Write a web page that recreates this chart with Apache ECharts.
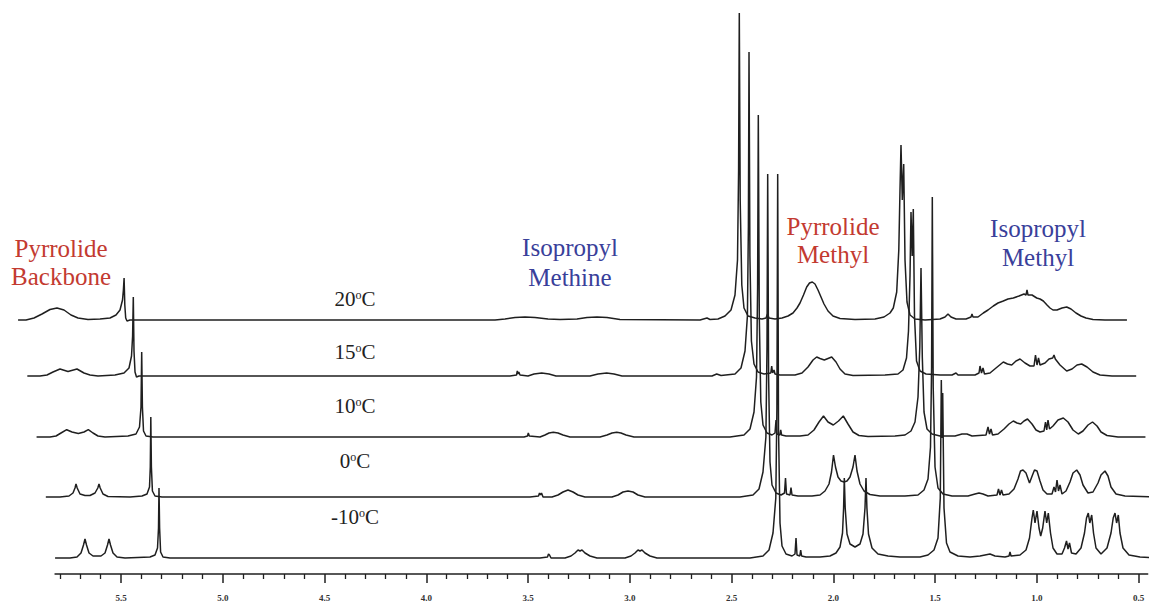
<!DOCTYPE html>
<html>
<head>
<meta charset="utf-8">
<title>Variable temperature 1H NMR</title>
<script src="https://cdn.jsdelivr.net/npm/echarts@6/dist/echarts.min.js"></script>
<style>
  html, body { margin: 0; padding: 0; background: #ffffff; overflow: hidden; }
  /* the stack runs off the right edge, so the drawing surface is a bit wider than the page */
  #chart { width: 1180px; height: 604px; }
</style>
</head>
<body>
<div id="chart"></div>
<script>
// Chemical shift window shared by every trace (ppm, axis runs high to low)
const ppmMin = 0.375;
const ppmMax = 5.824;

// Scale bar ticks
const majorTicks = [5.5, 5.0, 4.5, 4.0, 3.5, 3.0, 2.5, 2.0, 1.5, 1.0, 0.5];
const minorTicks = [5.8, 5.7, 5.6, 5.4, 5.3, 5.2, 5.1, 4.9, 4.8, 4.7, 4.6, 4.4, 4.3, 4.2, 4.1,
  3.9, 3.8, 3.7, 3.6, 3.4, 3.3, 3.2, 3.1, 2.9, 2.8, 2.7, 2.6, 2.4, 2.3, 2.2, 2.1,
  1.9, 1.8, 1.7, 1.6, 1.4, 1.3, 1.2, 1.1, 0.9, 0.8, 0.7, 0.6];

// Trace temperatures, bottom to top
const temperatures = ['-10', '0', '10', '15', '20'];

// Spectra: [chemical shift (ppm), intensity (a.u.)]
const spectrumM10 = [
  [5.824,0],[5.7506,0],[5.7162,1],[5.6966,5],[5.6843,13],[5.6769,19],[5.6695,13],[5.6572,5],[5.6376,2],
  [5.6179,2],[5.5983,2],[5.5786,5],[5.5663,13],[5.5590,19],[5.5516,13],[5.5393,5],[5.5196,1],[5.4803,0],
  [5.3575,1],[5.3329,3],[5.3206,10],[5.3157,30],[5.3133,70],[5.3103,30],[5.3054,6],[5.2936,1],[5.2592,0],
  [3.4410,0],[3.4042,1],[3.3993,4],[3.3943,3],[3.3870,0],[3.3182,0],[3.2887,2],[3.2690,5],[3.2543,8],
  [3.2445,7],[3.2346,8],[3.2199,5],[3.1953,2],[3.1609,0],[3.0233,0],[2.9939,2],[2.9742,5],[2.9595,8],
  [2.9496,7],[2.9398,8],[2.9251,5],[2.9005,2],[2.8661,0],[2.4091,0],[2.3452,2],[2.3157,8],[2.2961,25],
  [2.2823,60],[2.2769,150],[2.2730,384],[2.2690,130],[2.2617,35],[2.2518,12],[2.2322,4],[2.2027,2],
  [2.1880,4],[2.1830,20],[2.1781,3],[2.1644,2],[2.1600,8],[2.1555,2],[2.1339,1],[2.0651,1],[2.0160,2],
  [1.9865,5],[1.9668,11],[1.9545,25],[1.9491,50],[1.9457,80],[1.9413,50],[1.9324,24],[1.9177,14],
  [1.8931,11],[1.8686,14],[1.8538,24],[1.8440,50],[1.8391,80],[1.8346,50],[1.8268,24],[1.8096,10],
  [1.7801,4],[1.7310,2],[1.6720,1],[1.5737,1],[1.5344,3],[1.5049,8],[1.4853,20],[1.4740,60],[1.4690,178],
  [1.4656,120],[1.4622,165],[1.4558,50],[1.4435,15],[1.4263,6],[1.3870,2],[1.3280,1],[1.2789,2],
  [1.2543,3],[1.2297,4],[1.2052,2],[1.1560,1],[1.1364,2],[1.1314,6],[1.1265,2],[1.0823,3],[1.0528,8],
  [1.0356,20],[1.0233,40],[1.0170,48],[1.0086,35],[0.9988,47],[0.9889,30],[0.9806,22],[0.9708,30],
  [0.9595,47],[0.9511,35],[0.9432,45],[0.9324,25],[0.9201,10],[0.9005,4],[0.8759,4],[0.8636,10],
  [0.8538,17],[0.8464,9],[0.8391,15],[0.8292,5],[0.8071,4],[0.7826,10],[0.7654,25],[0.7555,40],
  [0.7467,45],[0.7393,35],[0.7300,43],[0.7211,25],[0.7088,10],[0.6843,4],[0.6548,10],[0.6351,25],
  [0.6243,40],[0.6155,45],[0.6076,35],[0.5993,43],[0.5909,25],[0.5762,10],[0.5467,3],[0.4926,1],[0.375,0]
];

const spectrum0 = [
  [5.824,0],[5.7543,0],[5.7101,1],[5.6904,4],[5.6806,9],[5.6757,13],[5.6698,9],[5.6560,3],[5.6314,1.5],
  [5.6069,1.5],[5.5823,4],[5.5686,9],[5.5627,13],[5.5568,9],[5.5430,3],[5.5184,0.5],[5.4103,0],
  [5.3514,1],[5.3268,3],[5.3145,10],[5.3106,30],[5.3081,80],[5.3052,30],[5.3002,6],[5.2875,1],[5.2531,0],
  [3.4447,0],[3.4029,1],[3.3980,4],[3.3931,2],[3.3882,4],[3.3808,0],[3.3366,0],[3.3071,2],[3.2826,5],
  [3.2580,7],[3.2334,5],[3.2088,2],[3.1744,0],[3.0418,0],[3.0123,2],[2.9877,5],[2.9631,6],[2.9386,5],
  [2.9140,2],[2.8796,0],[2.4128,0],[2.3489,2],[2.3194,8],[2.2998,25],[2.2855,60],[2.2801,150],
  [2.2767,323],[2.2722,120],[2.2654,35],[2.2555,12],[2.2359,4],[2.2113,2],[2.1941,4],[2.1892,19],
  [2.1843,3],[2.1671,2],[2.1622,9.5],[2.1572,2],[2.1278,1],[2.0590,1],[2.0197,2],[1.9951,6],[1.9754,13],
  [1.9631,25],[1.9533,42],[1.9435,30],[1.9312,20],[1.9165,16],[1.9017,15],[1.8870,16],[1.8722,20],
  [1.8575,30],[1.8477,42],[1.8378,26],[1.8231,13],[1.8034,6],[1.7740,2.5],[1.7248,1],[1.6020,1],
  [1.5381,2],[1.5086,7],[1.4889,18],[1.4767,50],[1.4713,130],[1.4678,300],[1.4634,110],[1.4545,30],
  [1.4398,9],[1.4152,3],[1.3710,1],[1.2924,1],[1.2580,3],[1.2383,4],[1.2187,3],[1.1941,1],[1.1499,2],
  [1.1425,8],[1.1351,2],[1.1278,7],[1.1204,2],[1.0909,3],[1.0663,8],[1.0467,18],[1.0344,26],[1.0221,27],
  [1.0074,24],[0.9902,14],[0.9754,22],[0.9656,27],[0.9533,26],[0.9386,16],[0.9238,7],[0.9042,3],
  [0.8796,3],[0.8698,10],[0.8624,5],[0.8550,17],[0.8477,6],[0.8403,12],[0.8305,3],[0.8108,6],
  [0.7912,15],[0.7764,24],[0.7582,27],[0.7420,22],[0.7273,12],[0.7027,4],[0.6781,5],[0.6536,14],
  [0.6388,22],[0.6192,26],[0.6044,21],[0.5897,10],[0.5651,3],[0.5209,1],[0.375,0]
];

const spectrum10 = [
  [5.824,0],[5.7580,0],[5.7285,1],[5.7039,4],[5.6759,7.3],[5.6499,5],[5.6189,3.5],[5.5909,5],[5.5698,7.3],
  [5.5467,4],[5.5221,1],[5.4877,0],[5.3747,1],[5.3354,3],[5.3182,10],[5.3108,30],[5.3074,85],[5.3039,30],
  [5.2985,6],[5.2862,1],[5.2518,0],[3.4287,0],[3.4115,1],[3.4076,4],[3.4027,1],[3.3501,0],[3.3256,2],
  [3.3059,4],[3.2848,4.7],[3.2617,4],[3.2371,2],[3.2027,0],[3.0553,0],[3.0209,2],[2.9963,4],[2.9732,4.7],
  [2.9521,4],[2.9275,2],[2.8882,0],[2.4165,0],[2.3477,2],[2.3182,8],[2.2985,25],[2.2862,60],[2.2808,150],
  [2.2774,322],[2.2725,120],[2.2651,35],[2.2543,12],[2.2346,4],[2.2101,2],[2.1953,4],[2.1904,17],
  [2.1855,3],[2.1717,2],[2.1673,7],[2.1629,2],[2.1413,1],[2.0725,1],[2.0332,2],[2.0037,7],[1.9791,15],
  [1.9570,21],[1.9349,15],[1.9089,12],[1.8833,16],[1.8597,21],[1.8366,13],[1.8120,5],[1.7826,1.5],
  [1.7383,0.5],[1.6057,1],[1.5565,2],[1.5270,6],[1.5074,15],[1.4926,40],[1.4838,90],[1.4779,169],
  [1.4715,80],[1.4631,25],[1.4484,8],[1.4238,3],[1.3845,1],[1.3108,1],[1.2764,3],[1.2518,3],[1.2273,1],
  [1.1585,2],[1.1486,10],[1.1413,3],[1.1339,8],[1.1265,2],[1.0995,3],[1.0700,8],[1.0455,13],[1.0243,16],
  [1.0061,14],[0.9880,13],[0.9717,16],[0.9545,18],[0.9324,13],[0.9128,7],[0.8931,5],[0.8735,6],
  [0.8661,15],[0.8602,7],[0.8538,17],[0.8464,8],[0.8292,11],[0.8047,17],[0.7786,19],[0.7555,15],
  [0.7310,7],[0.7049,3],[0.6818,6],[0.6572,12],[0.6351,15],[0.6130,11],[0.5934,5],[0.5639,1.5],
  [0.5098,0],[0.375,0]
];

const spectrum15 = [
  [5.824,0],[5.7617,0],[5.7273,1],[5.6978,4],[5.6634,7],[5.6241,4.5],[5.5799,7],[5.5455,3],[5.5160,1],
  [5.4767,0],[5.3931,1],[5.3489,3],[5.3243,8],[5.3120,20],[5.3066,40],[5.3032,79],[5.2998,25],[5.2948,4],
  [5.2875,-1],[5.2752,0],[3.4521,0],[3.4201,1],[3.4162,5],[3.4128,2],[3.4088,4],[3.4029,1],[3.3636,0],
  [3.3342,2],[3.2963,3],[3.2604,2],[3.2260,0],[3.0590,0],[3.0197,2],[2.9769,3],[2.9410,2],[2.9017,0],
  [2.4595,0],[2.4364,2],[2.4152,0.5],[2.3464,2],[2.3170,8],[2.2973,25],[2.2855,60],[2.2806,150],
  [2.2776,324],[2.2732,120],[2.2658,35],[2.2531,12],[2.2334,4],[2.2039,2],[2.1705,3],[2.1661,10],
  [2.1617,3],[2.1548,6],[2.1499,2],[2.1253,1],[2.0516,1],[2.0172,3],[1.9877,9],[1.9631,16],[1.9450,19],
  [1.9287,17.5],[1.9076,16],[1.8894,17.5],[1.8713,19],[1.8501,14],[1.8305,7],[1.8059,2],[1.7666,0.5],
  [1.6093,1],[1.5455,2],[1.5209,6],[1.5037,18],[1.4939,45],[1.4865,100],[1.4816,164],[1.4757,120],
  [1.4703,167],[1.4644,60],[1.4545,15],[1.4373,5],[1.4079,2],[1.3391,1],[1.2801,1],[1.2604,3],[1.2506,1],
  [1.1671,1],[1.1474,3],[1.1425,10],[1.1351,3],[1.1278,8],[1.1204,2],[1.0934,3],[1.0639,8],[1.0280,14],
  [1.0074,12],[0.9867,11],[0.9656,15],[0.9459,17],[0.9214,13],[0.8968,10],[0.8771,10],[0.8698,21],
  [0.8624,11],[0.8550,18],[0.8477,11],[0.8231,13],[0.8034,17],[0.7853,18],[0.7789,21],[0.7725,17],
  [0.7494,11],[0.7165,5],[0.6904,7],[0.6658,11],[0.6428,12],[0.6167,9],[0.5872,4],[0.5528,1],
  [0.4939,0],[0.375,0]
];

const spectrum20 = [
  [5.824,0],[5.7850,0],[5.7457,2],[5.7064,6],[5.6671,10.5],[5.6327,12],[5.5983,10],[5.5639,5],[5.5295,2],
  [5.4803,0.5],[5.4214,1],[5.3722,2],[5.3428,5],[5.3231,10],[5.3108,20],[5.3064,30],[5.3030,42],
  [5.2995,15],[5.2951,2],[5.2887,-1],[5.2740,0],[3.4803,0],[3.4312,1],[3.3821,2.5],[3.3329,3],
  [3.2838,2.5],[3.2199,1],[3.1609,0.5],[3.0774,1],[3.0283,2.5],[2.9791,3],[2.9300,2.5],[2.8661,0.5],
  [2.4730,0],[2.4386,2],[2.4238,0.5],[2.3845,1],[2.3501,4],[2.3206,10],[2.3010,25],[2.2887,60],
  [2.2833,150],[2.2799,307],[2.2755,120],[2.2676,35],[2.2568,12],[2.2371,4],[2.2027,2],[2.1683,1],
  [2.1486,2],[2.1413,6],[2.1339,2],[2.1044,1],[2.0700,2],[2.0405,4],[2.0160,7],[1.9963,12],[1.9816,17],
  [1.9644,25],[1.9487,33],[1.9349,37],[1.9211,38],[1.9079,36],[1.8931,30],[1.8784,23],[1.8636,16],
  [1.8440,9],[1.8194,4],[1.7850,1.5],[1.7113,0.5],[1.6130,1],[1.5688,3],[1.5393,7],[1.5231,12],
  [1.5064,28],[1.4961,70],[1.4902,130],[1.4853,175],[1.4789,120],[1.4720,156],[1.4656,60],[1.4558,18],
  [1.4410,5],[1.4165,1],[1.3673,0],[1.2936,1],[1.2690,3],[1.2543,6],[1.2396,3],[1.2150,1],[1.1658,1],
  [1.1413,3],[1.1364,6],[1.1314,3],[1.1069,3],[1.0808,7],[1.0577,10],[1.0317,14],[1.0086,17],[0.9826,19],
  [0.9595,21],[0.9334,22],[0.9054,24],[0.8808,26],[0.8710,25],[0.8661,30],[0.8612,25],[0.8415,25],
  [0.8184,22],[0.8022,21],[0.7860,19],[0.7678,15],[0.7531,12],[0.7383,10],[0.7187,10],[0.6941,12],
  [0.6710,13],[0.6499,11],[0.6253,7],[0.6007,4],[0.5762,2],[0.5418,0.5],[0.4828,0],[0.375,0]
];

const spectra = [spectrumM10, spectrum0, spectrum10, spectrum15, spectrum20];

// ---- layout of the stacked plot ----
const pxPerPpm = 203.5;        // horizontal scale
const plotLeft = 55.07;        // x of ppmMax for the bottom trace
const stepX = 9.25;            // each higher trace sits a little further left
const baselines = [558, 497, 437, 376, 320];   // baseline y of each trace
const plotTop = 4;
const traceWidth = (ppmMax - ppmMin) * pxPerPpm;
const scaleMin = 0.455;
const scaleWidth = (ppmMax - scaleMin) * pxPerPpm;
const scaleLineY = 574;

const serif = "'Liberation Serif', 'DejaVu Serif', serif";
const ink = '#1f1f1f';
const red = '#c33a30';
const blue = '#39409a';

const grids = [], xAxes = [], yAxes = [], series = [];
spectra.forEach((data, k) => {
  grids.push({
    left: plotLeft - stepX * k,
    width: traceWidth,
    top: plotTop,
    height: baselines[k] - plotTop
  });
  xAxes.push({
    gridIndex: k, type: 'value', inverse: true, min: ppmMin, max: ppmMax, show: false
  });
  yAxes.push({
    gridIndex: k, type: 'value', min: 0, max: baselines[k] - plotTop, show: false
  });
  series.push({
    name: temperatures[k] + ' °C',
    type: 'line',
    xAxisIndex: k,
    yAxisIndex: k,
    data: data,
    showSymbol: false,
    symbol: 'none',
    clip: false,
    silent: true,
    lineStyle: { color: ink, width: 1.5 },
    z: 10 - k
  });
});

// scale bar grid (ppm axis under the stack)
grids.push({ left: plotLeft, width: scaleWidth, top: scaleLineY - 10, height: 10 });
yAxes.push({ gridIndex: 5, type: 'value', show: false, min: 0, max: 1 });
xAxes.push({
  gridIndex: 5, type: 'value', inverse: true, min: scaleMin, max: ppmMax,
  position: 'bottom',
  axisLine: { show: true, lineStyle: { color: ink, width: 1.5 } },
  axisTick: { show: true, customValues: majorTicks, length: 9, inside: false,
              lineStyle: { color: ink, width: 1.5 } },
  axisLabel: { show: true, customValues: majorTicks, margin: 19,
               formatter: v => Number(v).toFixed(1),
               fontFamily: serif, fontSize: 9, fontWeight: 'bold', color: '#333' },
  splitLine: { show: false }
});
xAxes.push({
  gridIndex: 5, type: 'value', inverse: true, min: scaleMin, max: ppmMax,
  position: 'bottom',
  axisLine: { show: false },
  axisTick: { show: true, customValues: minorTicks, length: 5, inside: false,
              lineStyle: { color: ink, width: 1.3 } },
  axisLabel: { show: false },
  splitLine: { show: false }
});

// temperature captions above each trace
const captionY = [517, 461, 406, 352, 299];
const graphics = temperatures.map((t, k) => ({
  type: 'text',
  x: 355,
  y: captionY[k],
  z: 20,
  style: {
    text: '{n|' + t + '}{o|o}{n|C}',
    align: 'center',
    verticalAlign: 'middle',
    rich: {
      n: { fontSize: 21, fontFamily: serif, fill: '#222' },
      o: { fontSize: 12, fontFamily: serif, fill: '#222', verticalAlign: 'top' }
    }
  }
}));

// signal group annotations
const groupNames = [
  { text: 'Pyrrolide\nBackbone', x: 61, y: 262, color: red, lh: 28 },
  { text: 'Isopropyl\nMethine', x: 570, y: 262, color: blue, lh: 30 },
  { text: 'Pyrrolide\nMethyl', x: 833, y: 240, color: red, lh: 28 },
  { text: 'Isopropyl\nMethyl', x: 1038, y: 243, color: blue, lh: 29 }
];
groupNames.forEach(g => graphics.push({
  type: 'text',
  x: g.x,
  y: g.y,
  z: 20,
  style: {
    text: g.text,
    fill: g.color,
    font: '25px ' + serif,
    lineHeight: g.lh,
    align: 'center',
    verticalAlign: 'middle'
  }
}));

const chart = echarts.init(document.getElementById('chart'), null, { renderer: 'svg' });
chart.setOption({
  backgroundColor: '#ffffff',
  animation: false,
  grid: grids,
  xAxis: xAxes,
  yAxis: yAxes,
  series: series,
  graphic: graphics
});
</script>
</body>
</html>
